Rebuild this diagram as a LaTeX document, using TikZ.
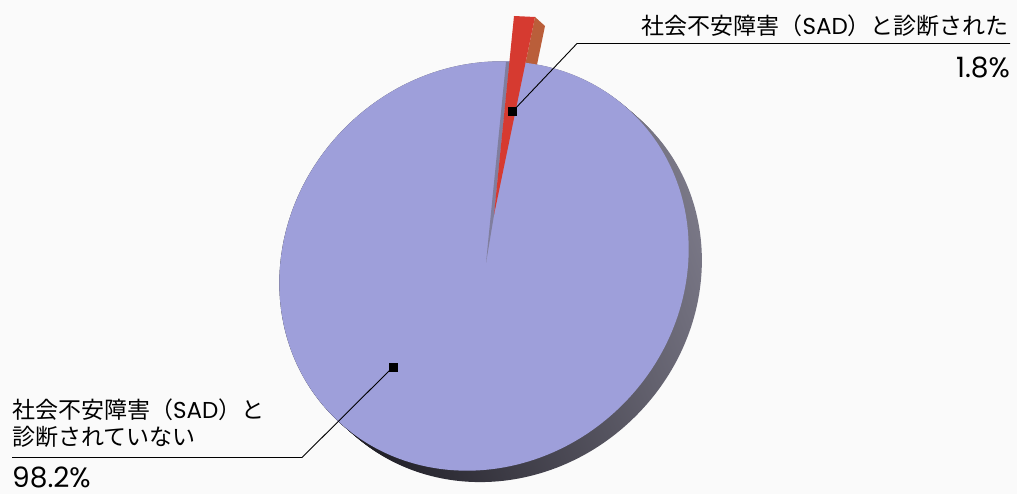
\documentclass[tikz,border=0pt]{standalone}
\usepackage{fontspec}
\newfontfamily\jp{Noto Sans CJK JP}
\newfontfamily\pop{Poppins}
\definecolor{lav}{RGB}{158,159,218}
\definecolor{redf}{RGB}{214,58,48}
\definecolor{redside}{RGB}{186,94,58}
\definecolor{cutgray}{RGB}{128,126,158}
\definecolor{rimlight}{RGB}{125,123,138}
\definecolor{rimdark}{RGB}{22,21,28}
\definecolor{bg}{RGB}{250,250,250}
\begin{document}
\begin{tikzpicture}[x=1pt,y=-1pt,
  txt/.style={font=\jp\fontsize{23}{27}\selectfont, inner sep=0pt},
  num/.style={font=\pop\fontsize{28}{32}\selectfont, inner sep=0pt, text depth=0pt},
  sq/.style={fill=black, minimum size=9pt, inner sep=0pt},
  leader/.style={draw=black, line width=0.9pt},
  disc/.style={rotate around={45:(484,266)}}]
\fill[bg] (0,0) rectangle (1017,494);
\useasboundingbox (0,0) rectangle (1017,494);
\coordinate (A) at (486,263);
% rim (thickness of the disc)
\foreach \i in {0,1,...,12} {
  \shade[top color=rimlight, bottom color=rimdark, shading angle=-70,
         shift={(1.1*\i,0.95*\i)}, disc]
    (484,266) ellipse [x radius=213pt, y radius=196pt];
}
% red slice side face
\coordinate (T) at (494,215);
\coordinate (L) at (514,16);
\coordinate (R) at (535,17);
\coordinate (R2) at (545,26);
\coordinate (T2) at (504,224);
\fill[redside] (R) -- (R2) -- (T2) -- (T) -- cycle;
% lavender face
\fill[lav, disc] (484,266) ellipse [x radius=213pt, y radius=196pt];
% cut face of the big slice
\fill[cutgray] (A) -- (506,62) -- (509.5,62) -- (T) -- cycle;
% red slice top face
\fill[redf] (T) -- (L) -- (R) -- cycle;
% markers
\node[sq] (m1) at (512,112) {};
\node[sq] (m2) at (393,367) {};
% labels
\node[txt, anchor=base east] (t1) at (1009,35) {社会不安障害（{\pop SAD}）と診断された};
\node[num, anchor=base east] (n1) at (1010,78) {1.8\%};
\node[txt, anchor=base west] (t2a) at (12,418) {社会不安障害（{\pop SAD}）と};
\node[txt, anchor=base west] (t2b) at (12,445) {診断されていない};
\node[num, anchor=base west] (n2) at (12,487) {98.2\%};
% leader lines
\coordinate (k1) at (577,43.5);
\coordinate (k1e) at (1010,43.5);
\coordinate (k2) at (302,457.5);
\coordinate (k2e) at (12,457.5);
\draw[leader] (m1.center) -- (k1) -- (k1e);
\draw[leader] (m2.center) -- (k2) -- (k2e);
\end{tikzpicture}
\end{document}
